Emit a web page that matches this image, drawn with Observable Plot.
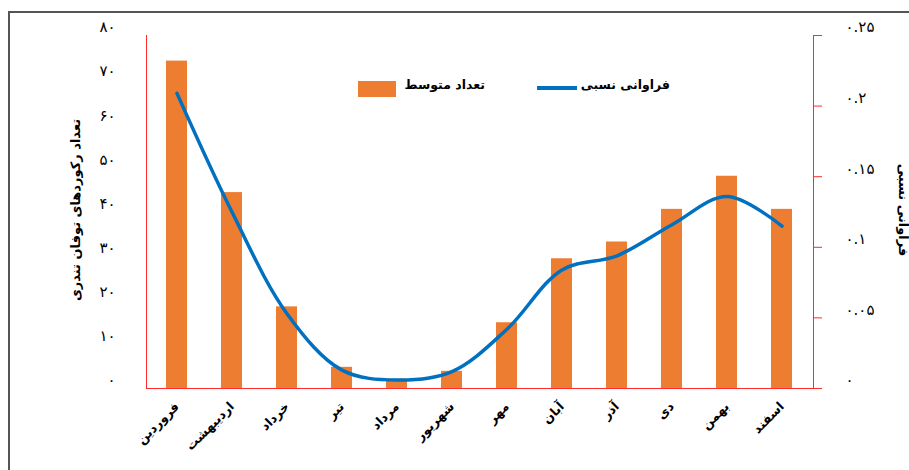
<!DOCTYPE html>
<html><head><meta charset="utf-8">
<script src="https://cdn.jsdelivr.net/npm/d3@7"></script>
<script src="https://cdn.jsdelivr.net/npm/@observablehq/plot@0.6"></script>
<style>
body{margin:0;background:#fff;font-family:"DejaVu Sans",sans-serif;}
#wrap{position:relative;width:909px;height:470px;overflow:hidden;background:#fff;}
#border{position:absolute;left:8px;top:11px;width:1000px;height:600px;border-left:2px solid #555;border-top:2px solid #555;}
#chart{position:absolute;left:0;top:0;}
.ttl{position:absolute;font-weight:bold;font-size:13px;white-space:nowrap;color:#000;}
.leg{position:absolute;font-weight:bold;font-size:12.5px;white-space:nowrap;color:#000;direction:rtl;}
</style></head>
<body>
<div id="wrap">
  <div id="border"></div>
  <div id="chart"></div>
  <div class="ttl" id="ltitle" style="left:75px;top:210px;transform:translate(-50%,-50%) rotate(-90deg);">تعداد رکوردهای توفان تندری</div>
  <div class="ttl" id="rtitle" style="left:903px;top:210px;transform:translate(-50%,-50%) rotate(90deg);">فراوانی نسبی</div>
  <div style="position:absolute;left:358px;top:81px;width:38px;height:16px;background:#ED7D31;"></div>
  <div class="leg" style="right:424px;top:77px;">تعداد متوسط</div>
  <div style="position:absolute;left:537px;top:86px;width:40px;height:3.5px;background:#0070C0;"></div>
  <div class="leg" style="right:239px;top:77px;">فراوانی نسبی</div>
</div>
<script>
const months = ["فروردین","اردیبهشت","خرداد","تیر","مرداد","شهریور","مهر","آبان","آذر","دی","بهمن","اسفند"];
const avgCount = [74.2,44.4,18.5,4.8,2.1,3.9,14.9,29.4,33.2,40.6,48.1,40.6];
const relFreq = [0.209,0.125,0.053,0.013,0.006,0.012,0.042,0.084,0.094,0.116,0.136,0.115];
const leftTicks = [0,10,20,30,40,50,60,70,80];
const rightTicks = [0,0.05,0.1,0.15,0.2,0.25];
const ratio = 80 / 0.25;
const fa = v => String(v).replace(/\d/g, d => "۰۱۲۳۴۵۶۷۸۹"[d]);
const data = months.map((m, i) => ({month: m, count: avgCount[i], freq: relFreq[i]}));
const red = "#ff2a2a";

const chart = Plot.plot({
  width: 909, height: 470,
  marginLeft: 146, marginRight: 96, marginTop: 35, marginBottom: 82,
  style: {fontFamily: "DejaVu Sans", background: "transparent", color: "#000"},
  x: {domain: months, paddingInner: 0.61, paddingOuter: 0.305, label: null},
  y: {domain: [0, 80], label: null},
  marks: [
    Plot.barY(data, {x: "month", y: "count", fill: "#ED7D31"}),
    Plot.line(data, {x: "month", y: d => d.freq * ratio, stroke: "#0070C0", strokeWidth: 3.5, curve: "catmull-rom"}),
    Plot.frame({anchor: "left", stroke: red}),
    Plot.frame({anchor: "right", stroke: red}),
    Plot.frame({anchor: "bottom", stroke: red}),
    Plot.axisY({anchor: "left", ticks: leftTicks, tickSize: 0, tickPadding: 31, tickFormat: fa, dy: -8, fontSize: 15, label: null}),
    Plot.axisY({anchor: "right", ticks: rightTicks.map(v => v * ratio), tickSize: 8, tickFormat: () => "", stroke: red, label: null}),
    Plot.axisY({anchor: "right", ticks: rightTicks.map(v => v * ratio), tickSize: 0, tickPadding: 32, tickFormat: v => fa(+(v / ratio).toFixed(2)), dy: -8, fontSize: 15, label: null}),
    Plot.axisX({tickRotate: -45, tickSize: 0, tickPadding: 16, fontWeight: "bold", fontSize: 12.5, label: null})
  ]
});
document.getElementById("chart").appendChild(chart);
</script>
</body></html>
